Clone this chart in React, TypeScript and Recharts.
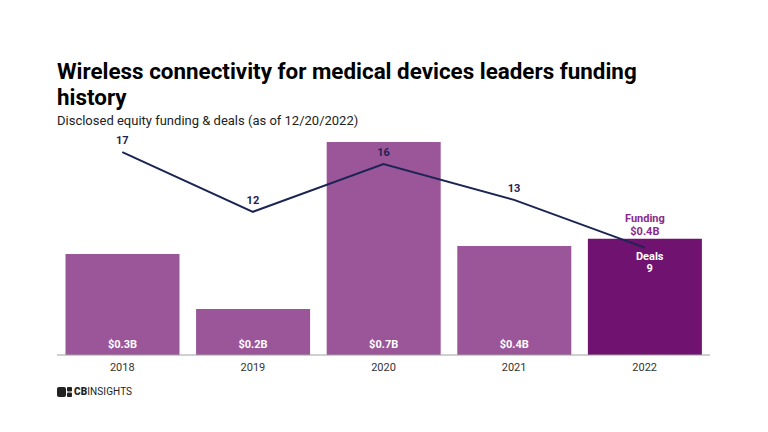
import { ComposedChart, Bar, Line, XAxis, YAxis, Cell, LabelList } from "recharts";

const years = ["2018", "2019", "2020", "2021", "2022"];
const funding = [0.332, 0.151, 0.7, 0.358, 0.382];
const fundingLabels = ["$0.3B", "$0.2B", "$0.7B", "$0.4B", "$0.4B"];
const deals = [17, 12, 16, 13, 9];

const data = years.map((year, i) => ({
  year,
  funding: funding[i],
  fundingLabel: fundingLabels[i],
  deals: deals[i],
}));

const BAR = "#9b5699";
const BAR_LAST = "#701370";
const LINE = "#1b2553";
const last = years.length - 1;

const BarLabel = (props: any) => {
  const { x, y, width, height, index } = props;
  const cx = x + width / 2;
  if (index === last) {
    return (
      <g fontFamily="Roboto" fontSize={11} fontWeight={700} fill="#8a2a8a" textAnchor="middle">
        <text x={cx} y={y - 17}>Funding</text>
        <text x={cx} y={y - 4}>{fundingLabels[index]}</text>
      </g>
    );
  }
  return (
    <text x={cx} y={y + height - 7} fontFamily="Roboto" fontSize={11} fontWeight={700} fill="#fff" textAnchor="middle">
      {fundingLabels[index]}
    </text>
  );
};

const LineLabel = (props: any) => {
  const { x, y, index, value } = props;
  if (index === last) {
    return (
      <g fontFamily="Roboto" fontSize={11} fontWeight={700} fill="#fff" textAnchor="middle">
        <text x={x + 5} y={y + 12}>Deals</text>
        <text x={x + 5} y={y + 24}>{value}</text>
      </g>
    );
  }
  return (
    <text x={x} y={y - 8} fontFamily="Roboto" fontSize={11} fontWeight={700} fill={LINE} textAnchor="middle">
      {value}
    </text>
  );
};

export default function App() {
  return (
    <div
      style={{
        position: "absolute",
        left: 0,
        top: 0,
        width: 768,
        height: 432,
        background: "#fff",
        fontFamily: "Roboto, sans-serif",
      }}
    >
      <div
        style={{
          position: "absolute",
          left: 57,
          top: 58,
          fontSize: 22.4,
          fontWeight: 700,
          lineHeight: "26px",
          color: "#000",
        }}
      >
        Wireless connectivity for medical devices leaders funding
        <br />
        history
      </div>
      <div style={{ position: "absolute", left: 57, top: 113, fontSize: 13, color: "#222" }}>
        Disclosed equity funding &amp; deals (as of 12/20/2022)
      </div>
      <div style={{ position: "absolute", left: 0, top: 0 }}>
        <ComposedChart
          width={768}
          height={432}
          data={data}
          margin={{ top: 142, right: 58, bottom: 47, left: 57 }}
          barCategoryGap="6.5%"
        >
          <XAxis
            dataKey="year"
            tickLine={false}
            axisLine={{ stroke: "#a0a0a0" }}
            tick={{ fill: "#333", fontSize: 11, fontFamily: "Roboto" }}
          />
          <YAxis yAxisId="f" hide domain={[0, 0.7]} />
          <YAxis yAxisId="d" hide domain={[0, 17.85]} orientation="right" />
          <Bar yAxisId="f" dataKey="funding" isAnimationActive={false}>
            {data.map((d, i) => (
              <Cell key={d.year} fill={i === last ? BAR_LAST : BAR} />
            ))}
            <LabelList dataKey="funding" content={BarLabel} />
          </Bar>
          <Line
            yAxisId="d"
            dataKey="deals"
            type="linear"
            stroke={LINE}
            strokeWidth={2}
            dot={false}
            activeDot={false}
            isAnimationActive={false}
          >
            <LabelList dataKey="deals" content={LineLabel} />
          </Line>
        </ComposedChart>
      </div>
      <div
        style={{
          position: "absolute",
          left: 57,
          top: 386,
          display: "flex",
          alignItems: "center",
          color: "#222",
          fontSize: 10,
          letterSpacing: 0.1,
        }}
      >
        <svg width={15} height={10} style={{ marginRight: 2 }}>
          <rect x={0} y={0} width={9} height={10} rx={2} fill="#222" />
          <rect x={10} y={0} width={5} height={4.5} rx={1} fill="#222" />
          <rect x={10} y={5.5} width={5} height={4.5} rx={1} fill="#222" />
        </svg>
        <span style={{ fontWeight: 900 }}>CB</span>
        <span style={{ fontWeight: 400 }}>INSIGHTS</span>
      </div>
    </div>
  );
}
